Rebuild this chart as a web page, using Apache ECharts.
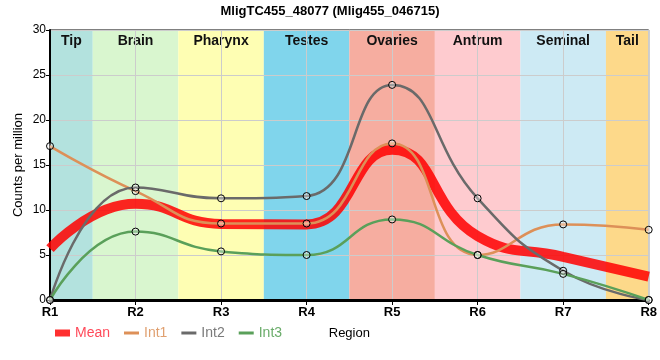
<!DOCTYPE html>
<html>
<head>
<meta charset="utf-8">
<script src="https://cdn.jsdelivr.net/npm/echarts@6/dist/echarts.min.js"></script>
<style>html,body{margin:0;padding:0;background:#fff}#c{width:660px;height:360px}</style>
</head>
<body>
<div id="c"></div>
<script>
const categories = ['R1','R2','R3','R4','R5','R6','R7','R8'];
const bandNames = ['Tip','Brain','Pharynx','Testes','Ovaries','Antrum','Seminal','Tail'];
const bandColors = ['#b3e2de','#d9f6cf','#fefeb3','#80d5ec','#f6ada0','#fecbcf','#cdeaf4','#fdd98a'];
const meanValues = [5.7, 10.7, 8.45, 8.4, 16.7, 7.1, 4.8, 2.6];
const int1Values = [17.1, 12.1, 8.5, 8.5, 17.4, 5.0, 8.4, 7.8];
const int2Values = [0, 12.5, 11.3, 11.55, 23.9, 11.3, 3.25, 0];
const int3Values = [0, 7.6, 5.4, 5.0, 8.95, 5.0, 2.9, 0];
const yTicks = [0, 5, 10, 15, 20, 25, 30];

const FN = "'Liberation Sans Narrow','Arial Narrow','Liberation Sans',Arial,sans-serif";
const FS = "'Liberation Sans',Arial,sans-serif";

const toPts = arr => arr.map((v, i) => [i, v]);
const last = categories.length - 1;
const bands = bandNames.map((n, i) => [
  { name: n, xAxis: Math.max(0, i - 0.5), itemStyle: { color: bandColors[i] } },
  { xAxis: Math.min(last, i + 0.5) }
]);

const marker = { symbol: 'circle', symbolSize: 7, itemStyle: { color: 'rgba(255,255,255,0.35)', borderColor: '#000', borderWidth: 1 } };

const lineIcon = 'path://M0,0 L15,0 L15,3 L0,3 Z';

const chart = echarts.init(document.getElementById('c'), null, { renderer: 'canvas' });
chart.setOption({
  animation: false,
  title: {
    text: 'MligTC455_48077 (Mlig455_046715)',
    left: 'center', top: 0,
    textStyle: { fontFamily: FN, fontWeight: 'bold', fontSize: 13, color: '#000' }
  },
  grid: { left: 50, right: 9, top: 30, bottom: 60, show: true, borderColor: '#000', borderWidth: 1, backgroundColor: 'transparent' },
  legend: {
    left: 50, top: 321, itemWidth: 15, itemHeight: 7, itemGap: 14,
    textStyle: { fontFamily: FS, fontSize: 14 },
    data: [
      { name: 'Mean', icon: 'rect', itemStyle: { color: '#ff3030', borderWidth: 0 }, textStyle: { color: '#ff4a5a' } },
      { name: 'Int1', icon: lineIcon, itemStyle: { color: '#dd9058', borderWidth: 0 }, textStyle: { color: '#e0a070' } },
      { name: 'Int2', icon: lineIcon, itemStyle: { color: '#6a6a6a', borderWidth: 0 }, textStyle: { color: '#7a7a7a' } },
      { name: 'Int3', icon: lineIcon, itemStyle: { color: '#5aa05a', borderWidth: 0 }, textStyle: { color: '#6aac6a' } }
    ]
  },
  xAxis: {
    type: 'value', min: 0, max: last, interval: 1, z: 3,
    name: 'Region', nameLocation: 'middle', nameGap: 27, nameMoveOverlap: false,
    nameTextStyle: { fontFamily: FS, fontSize: 13, color: '#000' },
    axisLine: { show: true, onZero: false, lineStyle: { color: '#000', width: 3 } },
    axisTick: { show: true, length: 5, lineStyle: { color: '#000' } },
    axisLabel: { formatter: v => categories[v] || '', fontFamily: FN, fontWeight: 'bold', fontSize: 13, color: '#000', margin: 6 },
    splitLine: { show: true, lineStyle: { color: '#cccccc', width: 1 } }
  },
  yAxis: {
    type: 'value', min: yTicks[0], max: yTicks[yTicks.length - 1], interval: 5, z: 3,
    name: 'Counts per million', nameLocation: 'middle', nameGap: 25, nameMoveOverlap: false,
    nameTextStyle: { fontFamily: FS, fontSize: 13, color: '#000' },
    axisLine: { show: true, lineStyle: { color: '#000', width: 2 } },
    axisTick: { show: true, length: 4, lineStyle: { color: '#000' } },
    axisLabel: { fontFamily: FN, fontSize: 12, color: '#000', margin: 4 },
    splitLine: { show: true, lineStyle: { color: '#cccccc', width: 1 } }
  },
  series: [
    {
      name: 'bands', type: 'line', data: [], z: 1, silent: true,
      markArea: {
        silent: true,
        label: { show: true, position: 'insideTop', distance: 4, fontFamily: FN, fontWeight: 'bold', fontSize: 14, color: '#111' },
        data: bands
      }
    },
    {
      name: 'Mean', type: 'line', data: toPts(meanValues), smooth: 0.5, z: 5,
      showSymbol: false, symbol: 'none',
      lineStyle: { color: 'rgba(255,0,0,0.85)', width: 10 },
      itemStyle: { color: '#ff3030' }
    },
    {
      name: 'Int1', type: 'line', data: toPts(int1Values), smooth: 0.5, z: 6,
      ...marker, lineStyle: { color: '#dd9058', width: 2.5 }
    },
    {
      name: 'Int2', type: 'line', data: toPts(int2Values), smooth: 0.5, z: 6,
      ...marker, lineStyle: { color: '#6a6a6a', width: 2.5 }
    },
    {
      name: 'Int3', type: 'line', data: toPts(int3Values), smooth: 0.5, z: 6,
      ...marker, lineStyle: { color: '#5aa05a', width: 2.5 }
    }
  ]
});
</script>
</body>
</html>
